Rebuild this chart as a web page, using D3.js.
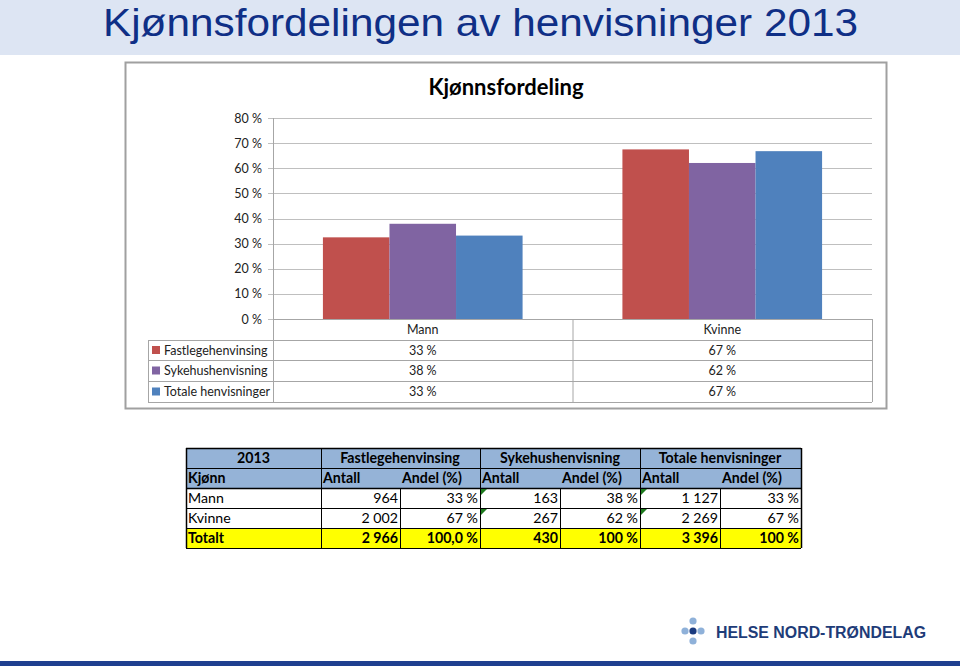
<!DOCTYPE html>
<html><head><meta charset="utf-8">
<script src="https://cdn.jsdelivr.net/npm/d3@7"></script>
<style>html,body{margin:0;padding:0;background:#fff;}svg{display:block;}</style>
</head><body>
<script>
const pageTitle = "Kjønnsfordelingen av henvisninger 2013";
const chartTitle = "Kjønnsfordeling";
const categories = ["Mann", "Kvinne"];
const seriesNames = ["Fastlegehenvinsing", "Sykehushenvisning", "Totale henvisninger"];
const fastlegeValues = [32.5, 67.5];
const sykehusValues = [37.9, 62.1];
const totaleValues = [33.2, 66.8];
const fastlegeLabels = ["33 %", "67 %"];
const sykehusLabels = ["38 %", "62 %"];
const totaleLabels = ["33 %", "67 %"];
const yTicks = [0, 10, 20, 30, 40, 50, 60, 70, 80];
const seriesColors = ["#c0504d", "#8064a2", "#4f81bd"];

const tableYear = "2013";
const tableGroups = ["Fastlegehenvinsing", "Sykehushenvisning", "Totale henvisninger"];
const tableSubHeaders = ["Kjønn", "Antall", "Andel (%)", "Antall", "Andel (%)", "Antall", "Andel (%)"];
const tableRowMann = ["Mann", "964", "33 %", "163", "38 %", "1 127", "33 %"];
const tableRowKvinne = ["Kvinne", "2 002", "67 %", "267", "62 %", "2 269", "67 %"];
const tableRowTotal = ["Totalt", "2 966", "100,0 %", "430", "100 %", "3 396", "100 %"];
const logoText = "HELSE NORD-TRØNDELAG";

const W = 960, H = 666;
const FONT = "Lato, 'Open Sans', sans-serif";
const svg = d3.select("body").append("svg").attr("width", W).attr("height", H);

// header band
svg.append("rect").attr("x", 0).attr("y", 0).attr("width", W).attr("height", 55).attr("fill", "#dde5f3");
svg.append("text").attr("x", 103).attr("y", 36)
  .attr("font-family", "Liberation Sans, Arial, sans-serif").attr("font-size", 39)
  .attr("textLength", 755).attr("lengthAdjust", "spacingAndGlyphs")
  .attr("fill", "#0f2f86").text(pageTitle);

// chart frame
svg.append("rect").attr("x", 125.5).attr("y", 62.5).attr("width", 761).attr("height", 346)
  .attr("fill", "#fff").attr("stroke", "#a0a0a0").attr("stroke-width", 2);
svg.append("text").attr("x", 506).attr("y", 95).attr("text-anchor", "middle")
  .attr("font-family", FONT).attr("font-weight", "bold").attr("font-size", 22)
  .attr("fill", "#000").text(chartTitle);

const plotL = 273, plotR = 872, y0 = 319, yTop = 118;
const y = d3.scaleLinear().domain([0, 80]).range([y0, yTop]);
const x0 = d3.scaleBand().domain(categories).range([plotL, plotR]).paddingInner(0).paddingOuter(0);
const x1 = d3.scaleBand().domain(seriesNames).range([0, x0.bandwidth()]).paddingInner(0).paddingOuter(0.75);

// grid + ticks
const gridG = svg.append("g");
gridG.selectAll("line").data(yTicks).join("line")
  .attr("x1", plotL - 5).attr("x2", plotR)
  .attr("y1", d => Math.round(y(d)) + 0.5).attr("y2", d => Math.round(y(d)) + 0.5)
  .attr("stroke", "#bfbfbf").attr("stroke-width", 1);

const yAxis = d3.axisLeft(y).tickValues(yTicks).tickSize(0).tickPadding(11).tickFormat(d => d + " %");
const yg = svg.append("g").attr("transform", `translate(${plotL},0)`).call(yAxis);
yg.select(".domain").remove();
yg.selectAll("text").attr("font-family", FONT).attr("font-size", 12.5).attr("fill", "#222");

// bars
const seriesValues = [fastlegeValues, sykehusValues, totaleValues];
const barData = [];
categories.forEach((c, ci) => seriesNames.forEach((s, si) => barData.push({c, s, si, v: seriesValues[si][ci]})));
svg.append("g").selectAll("rect").data(barData).join("rect")
  .attr("x", d => x0(d.c) + x1(d.s))
  .attr("y", d => y(d.v))
  .attr("width", x1.bandwidth())
  .attr("height", d => y0 - y(d.v))
  .attr("fill", d => seriesColors[d.si]);

// axis vertical line
svg.append("line").attr("x1", plotL + 0.5).attr("x2", plotL + 0.5).attr("y1", yTop).attr("y2", 402)
  .attr("stroke", "#a6a6a6");

// data table inside chart
const rowY = [319, 340, 360, 381, 402];
const tblL = 148;
const tg = svg.append("g");
const gray = "#a6a6a6";
tg.append("line").attr("x1", plotL).attr("x2", plotR).attr("y1", rowY[0] + 0.5).attr("y2", rowY[0] + 0.5).attr("stroke", gray);
rowY.slice(1).forEach(ry => tg.append("line").attr("x1", tblL).attr("x2", plotR).attr("y1", ry + 0.5).attr("y2", ry + 0.5).attr("stroke", gray));
tg.append("line").attr("x1", tblL + 0.5).attr("x2", tblL + 0.5).attr("y1", rowY[1]).attr("y2", rowY[4]).attr("stroke", gray);
tg.append("line").attr("x1", plotR + 0.5).attr("x2", plotR + 0.5).attr("y1", rowY[0]).attr("y2", rowY[4]).attr("stroke", gray);
categories.slice(1).forEach(c => tg.append("line").attr("x1", x0(c) + 0.5).attr("x2", x0(c) + 0.5)
  .attr("y1", rowY[0]).attr("y2", rowY[4]).attr("stroke", gray));
tg.selectAll("text.cat").data(categories).join("text").attr("class", "cat")
  .attr("x", d => x0(d) + x0.bandwidth() / 2).attr("y", (rowY[0] + rowY[1]) / 2 + 4.5)
  .attr("text-anchor", "middle").attr("font-family", FONT).attr("font-size", 12.5).attr("fill", "#222")
  .text(d => d);
const labelSets = [fastlegeLabels, sykehusLabels, totaleLabels];
seriesNames.forEach((s, si) => {
  const cy = (rowY[si + 1] + rowY[si + 2]) / 2;
  tg.append("rect").attr("x", 152).attr("y", cy - 4).attr("width", 8).attr("height", 8).attr("fill", seriesColors[si]);
  tg.append("text").attr("x", 164).attr("y", cy + 4.5).attr("font-family", FONT)
    .attr("font-size", 12.5).attr("fill", "#222").text(s);
  categories.forEach((c, ci) => {
    tg.append("text").attr("x", x0(c) + x0.bandwidth() / 2).attr("y", cy + 4.5).attr("text-anchor", "middle")
      .attr("font-family", FONT).attr("font-size", 12.5).attr("fill", "#222")
      .text(labelSets[si][ci]);
  });
});

// bottom table
const colX = [186, 321, 400, 480, 560, 640, 720, 801];
const rY = [448, 468, 488, 508, 528, 548];
const bt = svg.append("g").attr("font-family", FONT).attr("font-size", 14.2);
bt.append("rect").attr("x", colX[0]).attr("y", rY[0]).attr("width", colX[7] - colX[0]).attr("height", rY[2] - rY[0]).attr("fill", "#95b3d7");
bt.append("rect").attr("x", colX[0]).attr("y", rY[4]).attr("width", colX[7] - colX[0]).attr("height", rY[5] - rY[4]).attr("fill", "#ffff00");
bt.append("text").attr("x", (colX[0] + colX[1]) / 2).attr("y", rY[0] + 15).attr("text-anchor", "middle").attr("font-weight", "bold").text(tableYear);
tableGroups.forEach((g, i) => bt.append("text").attr("x", colX[1 + i * 2 + 1]).attr("y", rY[0] + 15)
  .attr("text-anchor", "middle").attr("font-weight", "bold").text(g));
tableSubHeaders.forEach((h, i) => bt.append("text").attr("x", colX[i] + 2).attr("y", rY[1] + 15)
  .attr("font-weight", "bold").text(h));
[tableRowMann, tableRowKvinne, tableRowTotal].forEach((row, ri) => {
  row.forEach((cell, ci) => {
    const t = bt.append("text").attr("y", rY[2 + ri] + 15).text(cell);
    if (ri === 2) t.attr("font-weight", "bold");
    if (ci === 0) t.attr("x", colX[0] + 2);
    else t.attr("x", colX[ci + 1] - 2).attr("text-anchor", "end");
  });
});
const bc = "#000";
rY.forEach(ry => bt.append("line").attr("x1", colX[0]).attr("x2", colX[7]).attr("y1", ry + 0.5).attr("y2", ry + 0.5)
  .attr("stroke", bc).attr("stroke-width", (ry === rY[0] || ry === rY[2]) ? 1.5 : 1));
colX.forEach((cx, i) => {
  const groupEdge = (i === 0 || i === 1 || i === 3 || i === 5 || i === 7);
  bt.append("line").attr("x1", cx + 0.5).attr("x2", cx + 0.5)
    .attr("y1", groupEdge ? rY[0] : rY[2]).attr("y2", rY[5]).attr("stroke", bc)
    .attr("stroke-width", (i === 0 || i === 7) ? 1.5 : 1);
});
[3, 5].forEach(ci => [2, 3].forEach(ri => {
  const tx = colX[ci] + 1, ty = rY[ri] + 1;
  bt.append("path").attr("d", `M${tx},${ty}L${tx + 6},${ty}L${tx},${ty + 6}Z`).attr("fill", "#1e7a1e");
}));

// logo
const lg = svg.append("g");
const dots = [[693, 621, "#8fb1d9"], [685, 631, "#8fb1d9"], [693, 631, "#1b3b80"], [701, 631, "#8fb1d9"], [693, 641, "#8fb1d9"]];
lg.selectAll("circle").data(dots).join("circle").attr("cx", d => d[0]).attr("cy", d => d[1]).attr("r", 3.6).attr("fill", d => d[2]);
lg.append("text").attr("x", 716).attr("y", 637.5).attr("font-family", "Liberation Sans, Arial, sans-serif")
  .attr("font-weight", "bold").attr("font-size", 16).attr("fill", "#1e3c78")
  .attr("textLength", 210).attr("lengthAdjust", "spacingAndGlyphs").text(logoText);

// bottom stripe
svg.append("rect").attr("x", 0).attr("y", 661).attr("width", W).attr("height", 5).attr("fill", "#1f3f8f");
</script>
</body></html>
